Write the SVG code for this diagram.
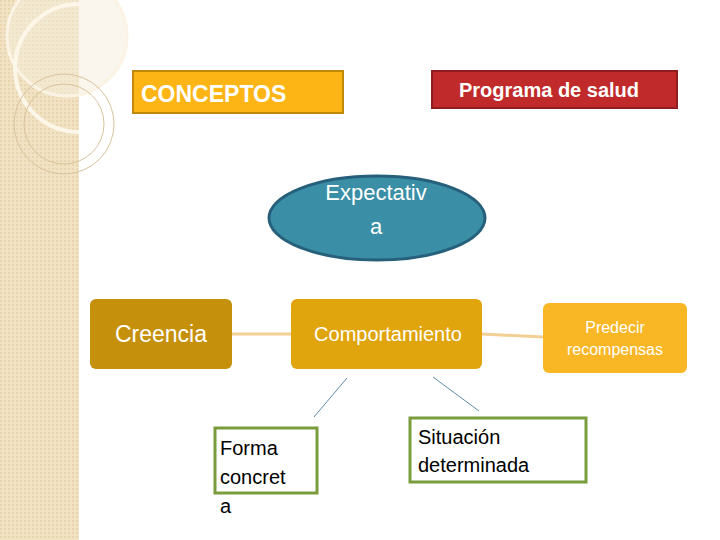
<svg xmlns="http://www.w3.org/2000/svg" width="720" height="540" viewBox="0 0 720 540">
<defs>
<pattern id="pt" width="4" height="4" patternUnits="userSpaceOnUse"><rect width="4" height="4" fill="#f1e2c4"/><rect width="2" height="2" fill="#e8d5b0"/></pattern>
</defs>
<style>
text{font-family:"Liberation Sans",Arial,sans-serif}
.w{fill:#fff}
.k{fill:#000}
.con{fill:none}
</style>
<rect width="720" height="540" fill="#fff"/>
<g id="bg">
<rect width="79" height="540" fill="url(#pt)"/>
<circle cx="67" cy="36" r="60" fill="#f6eedc" opacity="0.5"/>
<circle cx="67" cy="36" r="60" fill="none" stroke="#fbf4e4" stroke-width="3"/>
<path d="M79 4 A62 62 0 0 0 79 132" fill="none" stroke="#fdf7ea" stroke-width="4"/>
<circle cx="64" cy="124" r="50" fill="none" stroke="#d8c39b" stroke-width="1"/>
<circle cx="64" cy="124" r="40" fill="none" stroke="#d8c39b" stroke-width="1"/>
</g>
<g id="connectors" class="con">
<line x1="232" y1="334" x2="292" y2="334" stroke="#f3cf93" stroke-width="3"/>
<line x1="482" y1="334" x2="543" y2="337" stroke="#f3cf93" stroke-width="3"/>
<line x1="347" y1="378" x2="314" y2="417" stroke="#5e8ca8" stroke-width="1"/>
<line x1="433" y1="377" x2="479" y2="411" stroke="#5e8ca8" stroke-width="1"/>
</g>
<g id="conceptos"><rect x="133" y="71" width="210" height="42" fill="#fdb515" stroke="#c08a0a" stroke-width="2"/><text x="141" y="102" font-size="23" font-weight="bold" class="w">CONCEPTOS</text></g>
<g id="programa"><rect x="432" y="71" width="245" height="37" fill="#c02a2a" stroke="#8e1e1e" stroke-width="2"/><text x="549" y="97" font-size="20" font-weight="bold" class="w" text-anchor="middle">Programa de salud</text></g>
<g id="expectativa"><ellipse cx="377" cy="218" rx="108" ry="42" fill="#3a8ea6" stroke="#27607a" stroke-width="3"/><text x="376" y="200" font-size="22" class="w" text-anchor="middle">Expectativ</text><text x="376" y="234" font-size="22" class="w" text-anchor="middle">a</text></g>
<g id="creencia"><rect x="90" y="299" width="142" height="70" rx="6" fill="#c5900c"/><text x="161" y="342" font-size="23" class="w" text-anchor="middle">Creencia</text></g>
<g id="comportamiento"><rect x="291" y="299" width="191" height="70" rx="6" fill="#e0a40c"/><text x="388" y="341" font-size="20" class="w" text-anchor="middle">Comportamiento</text></g>
<g id="predecir"><rect x="543" y="303" width="144" height="70" rx="6" fill="#f9b625"/><text x="615" y="333" font-size="16" class="w" text-anchor="middle">Predecir</text><text x="615" y="355" font-size="16" class="w" text-anchor="middle">recompensas</text></g>
<g id="forma"><rect x="215" y="428" width="102" height="65" fill="#fff" stroke="#7a9c3c" stroke-width="3"/><text x="220" y="455" font-size="20" class="k">Forma</text><text x="220" y="484" font-size="20" class="k">concret</text><text x="220" y="513" font-size="20" class="k">a</text></g>
<g id="situacion"><rect x="410" y="418" width="176" height="64" fill="#fff" stroke="#7a9c3c" stroke-width="3"/><text x="418" y="444" font-size="20" class="k">Situación</text><text x="418" y="472" font-size="20" class="k">determinada</text></g>
</svg>
